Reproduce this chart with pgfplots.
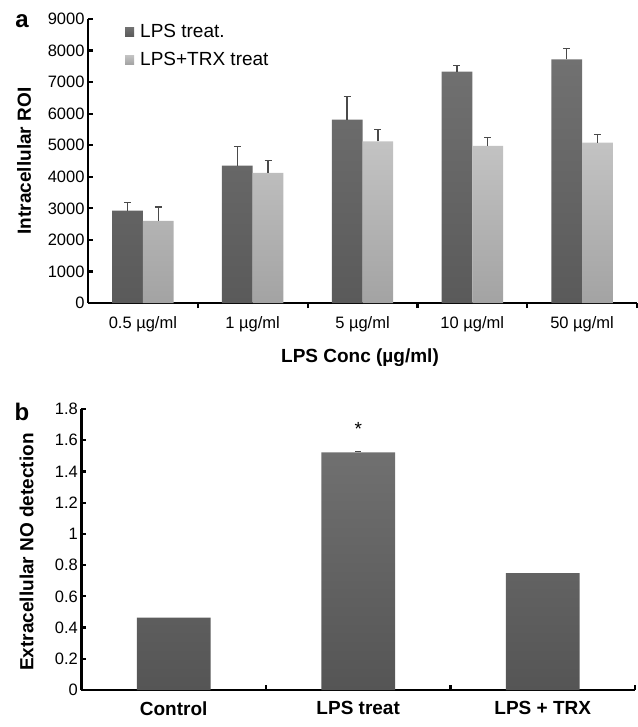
\documentclass[border=0pt]{standalone}
\usepackage{fontspec}
\setmainfont{Liberation Sans}
\usepackage{pgfplots}
\pgfplotsset{compat=1.18}

\definecolor{darkTop}{HTML}{717171}
\definecolor{darkBot}{HTML}{5A5A5A}
\definecolor{lightTop}{HTML}{C3C3C3}
\definecolor{lightBot}{HTML}{A3A3A3}
\definecolor{bTop}{HTML}{707070}
\definecolor{bBot}{HTML}{555555}
\definecolor{errCol}{HTML}{4A4A4A}

\newcommand{\tickfont}{\fontsize{16.5bp}{19bp}\selectfont}
\newcommand{\labfont}{\bfseries\fontsize{19bp}{22bp}\selectfont}

\pgfplotsset{
  panel/.style={
    scale only axis,
    anchor=south west,
    axis x line*=bottom, axis y line*=left,
    axis line style={line width=2.2bp, black},
    tick align=inside,
    major tick length=5bp, minor tick length=5bp,
    tick style={line width=2.2bp, black},
    major x tick style={draw=none},
    minor x tick style={line width=2.2bp, black},
    tick label style={font=\tickfont},
    scaled y ticks=false,
    /pgf/number format/1000 sep={},
    /pgf/number format/assume math mode=true,
    clip=false,
  },
}

\begin{document}
\begin{tikzpicture}
\useasboundingbox (0,0) rectangle (638bp,-727bp);

% panel a
\begin{axis}[
  panel,
  at={(88bp,-303bp)},
  width=549bp, height=284bp,
  xmin=0, xmax=5, ymin=0, ymax=9000,
  ytick={0,1000,2000,3000,4000,5000,6000,7000,8000,9000},
  xtick={0.5,1.5,2.5,3.5,4.5},
  xticklabels={0.5 µg/ml, 1 µg/ml, 5 µg/ml, 10 µg/ml, 50 µg/ml},
  x tick label style={yshift=-5bp},
  minor xtick={1,2,3,4,5},
  ybar=0pt, bar width=0.28,
  legend style={draw=none, fill=none, at={(0.062,0.995)}, anchor=north west,
    font=\fontsize{19bp}{22bp}\selectfont, row sep=9bp,
    legend cell align=left},
  legend image code/.code={\fill[#1] (0bp,-4.5bp) rectangle (9bp,4.5bp);
    \path (0bp,0bp) -- (13bp,0bp);},
]
\addplot[draw=none, top color=darkTop, bottom color=darkBot,
  error bars/.cd, y dir=plus, y explicit,
  error bar style={draw=errCol, line width=1.3bp},
  error mark options={draw=errCol, line width=1.3bp, mark size=3.5bp, rotate=90}]
  coordinates {(0.5,2930) +- (0,260) (1.5,4350) +- (0,620) (2.5,5810) +- (0,730)
               (3.5,7330) +- (0,200) (4.5,7720) +- (0,350)};
\addplot[draw=none, top color=lightTop, bottom color=lightBot,
  error bars/.cd, y dir=plus, y explicit,
  error bar style={draw=errCol, line width=1.3bp},
  error mark options={draw=errCol, line width=1.3bp, mark size=3.5bp, rotate=90}]
  coordinates {(0.5,2600) +- (0,440) (1.5,4120) +- (0,390) (2.5,5120) +- (0,370)
               (3.5,4980) +- (0,260) (4.5,5080) +- (0,270)};
\legend{LPS treat., LPS+TRX treat}
\end{axis}

% panel b
\begin{axis}[
  panel,
  at={(81.4bp,-690bp)},
  width=553.6bp, height=281bp,
  xmin=0, xmax=3, ymin=0, ymax=1.8,
  ytick={0,0.2,0.4,0.6,0.8,1,1.2,1.4,1.6,1.8},
  xtick={0.5,1.5,2.5},
  xticklabels={Control, LPS treat, LPS + TRX},
  x tick label style={font=\labfont, yshift=-8bp},
  minor xtick={1,2,3},
  bar width=0.4,
]
\addplot[ybar, draw=none, top color=bTop, bottom color=bBot]
  coordinates {(0.5,0.464) (1.5,1.522) (2.5,0.748)};
\addplot[draw=none, mark=none,
  error bars/.cd, y dir=plus, y explicit,
  error bar style={draw=errCol, line width=1.3bp},
  error mark options={draw=errCol, line width=1.3bp, mark size=3bp, rotate=90}]
  coordinates {(1.5,1.522) +- (0,0.006)};
\node[font=\fontsize{19bp}{22bp}\selectfont] at (axis cs:1.5,1.67) {*};
\end{axis}

% labels
\node[font=\bfseries\fontsize{24bp}{26bp}\selectfont] at (22bp,-21bp) {a};
\node[font=\bfseries\fontsize{24bp}{26bp}\selectfont] at (22bp,-412bp) {b};
\node[font=\labfont, rotate=90] at (24bp,-161bp) {Intracellular ROI};
\node[font=\labfont] at (360bp,-358bp) {LPS Conc (µg/ml)};
\node[font=\labfont, rotate=90] at (26.5bp,-552bp) {Extracellular NO detection};
\end{tikzpicture}
\end{document}
